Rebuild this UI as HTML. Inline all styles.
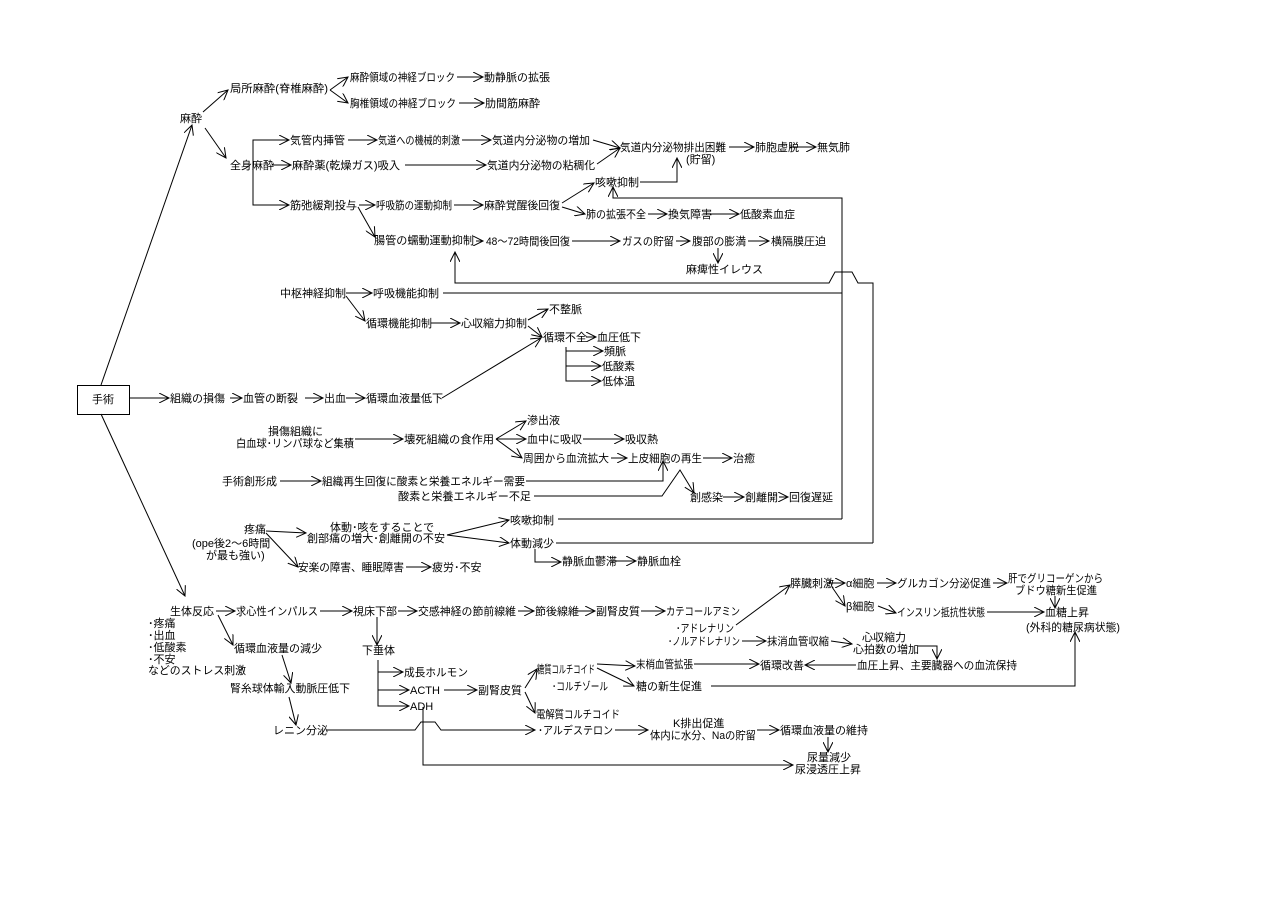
<!DOCTYPE html>
<html><head><meta charset="utf-8"><style>
html,body{margin:0;padding:0;background:#fff;}
svg{display:block}
text{font-family:"Liberation Sans","Noto Sans CJK JP",sans-serif;font-size:11px;fill:#000;}
line,polyline,path{stroke:#000;stroke-width:1;fill:none}
</style></head><body>
<svg width="1280" height="905" viewBox="0 0 1280 905" xmlns="http://www.w3.org/2000/svg">
<defs><marker id="a" markerWidth="12" markerHeight="10" refX="10" refY="5" orient="auto" markerUnits="userSpaceOnUse"><path d="M0,0 L10,5 L0,10" fill="none" stroke="#000"/></marker></defs>
<g marker-end="url(#a)">
<line x1="101" y1="385" x2="192" y2="125"/>
<line x1="101" y1="414" x2="185" y2="596"/>
<line x1="203" y1="112" x2="228" y2="90"/>
<line x1="205" y1="128" x2="226" y2="158"/>
<line x1="330" y1="90" x2="348" y2="77"/>
<line x1="330" y1="90" x2="348" y2="103"/>
<line x1="457" y1="77" x2="483" y2="77"/>
<line x1="459" y1="103" x2="484" y2="103"/>
<polyline points="253,165 253,140 289,140"/>
<polyline points="253,165 253,205 289,205"/>
<line x1="348" y1="140" x2="377" y2="140"/>
<line x1="462" y1="140" x2="491" y2="140"/>
<line x1="272" y1="165" x2="291" y2="165"/>
<line x1="405" y1="165" x2="486" y2="165"/>
<line x1="593" y1="140" x2="620" y2="148"/>
<line x1="597" y1="164" x2="620" y2="148"/>
<line x1="729" y1="147" x2="754" y2="147"/>
<line x1="790" y1="147" x2="816" y2="147"/>
<polyline points="640,182 677,182 677,158"/>
<polyline points="842,519 842,198 613,198 613,187"/>
<line x1="359" y1="205" x2="375" y2="205"/>
<line x1="454" y1="205" x2="483" y2="205"/>
<line x1="562" y1="203" x2="594" y2="183"/>
<line x1="562" y1="207" x2="585" y2="214"/>
<line x1="648" y1="214" x2="667" y2="214"/>
<line x1="710" y1="214" x2="739" y2="214"/>
<line x1="358" y1="207" x2="375" y2="237"/>
<line x1="476" y1="241" x2="483" y2="241"/>
<line x1="572" y1="241" x2="620" y2="241"/>
<line x1="676" y1="241" x2="690" y2="241"/>
<line x1="748" y1="241" x2="769" y2="241"/>
<line x1="718" y1="248" x2="718" y2="263"/>
<polyline points="873,543 873,283 858,283 852,272 835,272 829,283 455,283 455,252"/>
<line x1="346" y1="293" x2="372" y2="293"/>
<line x1="346" y1="296" x2="365" y2="321"/>
<line x1="431" y1="323" x2="460" y2="323"/>
<line x1="528" y1="320" x2="548" y2="309"/>
<line x1="528" y1="326" x2="542" y2="337"/>
<line x1="586" y1="337" x2="596" y2="337"/>
<polyline points="566,347 566,351 603,351"/>
<line x1="566" y1="366" x2="601" y2="366"/>
<polyline points="566,351 566,381 601,381"/>
<line x1="129" y1="398" x2="169" y2="398"/>
<line x1="230" y1="398" x2="242" y2="398"/>
<line x1="305" y1="398" x2="323" y2="398"/>
<line x1="346" y1="398" x2="365" y2="398"/>
<line x1="442" y1="398" x2="541" y2="338"/>
<line x1="355" y1="439" x2="403" y2="439"/>
<line x1="496" y1="439" x2="526" y2="421"/>
<line x1="496" y1="439" x2="526" y2="439"/>
<line x1="496" y1="439" x2="522" y2="458"/>
<line x1="583" y1="439" x2="624" y2="439"/>
<line x1="611" y1="458" x2="627" y2="458"/>
<line x1="703" y1="458" x2="732" y2="458"/>
<line x1="280" y1="481" x2="321" y2="481"/>
<polyline points="526,481 663,481 663,461"/>
<polyline points="534,496 662,496 680,470 694,493"/>
<line x1="723" y1="497" x2="744" y2="497"/>
<line x1="779" y1="497" x2="788" y2="497"/>
<line x1="266" y1="531" x2="306" y2="533"/>
<line x1="266" y1="533" x2="298" y2="567"/>
<line x1="447" y1="535" x2="509" y2="520"/>
<line x1="447" y1="535" x2="509" y2="543"/>
<polyline points="535,549 535,562 561,562"/>
<line x1="610" y1="561" x2="636" y2="561"/>
<line x1="406" y1="567" x2="431" y2="567"/>
<line x1="216" y1="611" x2="235" y2="611"/>
<line x1="320" y1="611" x2="352" y2="611"/>
<line x1="398" y1="611" x2="417" y2="611"/>
<line x1="518" y1="611" x2="534" y2="611"/>
<line x1="577" y1="611" x2="595" y2="611"/>
<line x1="641" y1="611" x2="665" y2="611"/>
<line x1="736" y1="625" x2="790" y2="585"/>
<line x1="829" y1="583" x2="845" y2="583"/>
<line x1="832" y1="587" x2="845" y2="606"/>
<line x1="877" y1="583" x2="896" y2="583"/>
<line x1="993" y1="583" x2="1007" y2="583"/>
<line x1="1055" y1="596" x2="1055" y2="608"/>
<line x1="878" y1="606" x2="896" y2="613"/>
<line x1="987" y1="612" x2="1044" y2="612"/>
<line x1="742" y1="641" x2="766" y2="641"/>
<line x1="831" y1="641" x2="852" y2="644"/>
<polyline points="918,646 937,646 937,659"/>
<line x1="856" y1="665" x2="805" y2="665"/>
<line x1="597" y1="664" x2="635" y2="666"/>
<line x1="597" y1="668" x2="634" y2="686"/>
<line x1="694" y1="664" x2="759" y2="664"/>
<polyline points="711,686 1075,686 1075,632"/>
<line x1="218" y1="615" x2="233" y2="645"/>
<line x1="282" y1="655" x2="291" y2="683"/>
<line x1="289" y1="697" x2="296" y2="725"/>
<line x1="377" y1="617" x2="377" y2="645"/>
<polyline points="378,660 378,672 403,672"/>
<line x1="378" y1="690" x2="409" y2="690"/>
<polyline points="378,672 378,706 409,706"/>
<line x1="444" y1="690" x2="477" y2="690"/>
<line x1="525" y1="688" x2="537" y2="669"/>
<line x1="525" y1="692" x2="535" y2="713"/>
<polyline points="327,730 415,730 421,722 435,722 441,730 535,730"/>
<line x1="615" y1="730" x2="648" y2="730"/>
<line x1="757" y1="730" x2="779" y2="730"/>
<line x1="828" y1="737" x2="828" y2="752"/>
<polyline points="423,707 423,765 793,765"/>
</g>
<line x1="558" y1="519" x2="842" y2="519"/>
<line x1="556" y1="543" x2="873" y2="543"/>
<line x1="443" y1="293" x2="842" y2="293"/>
<rect x="77.5" y="385.5" width="52" height="29" fill="none" stroke="#000"/>
<text x="92" y="403">手術</text>
<text x="180" y="122">麻酔</text>
<text x="230" y="92" textLength="98" lengthAdjust="spacingAndGlyphs">局所麻酔(脊椎麻酔)</text>
<text x="350" y="81" textLength="105" lengthAdjust="spacingAndGlyphs">麻酔領域の神経ブロック</text>
<text x="484" y="81">動静脈の拡張</text>
<text x="350" y="107" textLength="106" lengthAdjust="spacingAndGlyphs">胸椎領域の神経ブロック</text>
<text x="485" y="107">肋間筋麻酔</text>
<text x="230" y="169">全身麻酔</text>
<text x="290" y="144">気管内挿管</text>
<text x="378" y="144" textLength="82" lengthAdjust="spacingAndGlyphs">気道への機械的刺激</text>
<text x="492" y="144" textLength="98" lengthAdjust="spacingAndGlyphs">気道内分泌物の増加</text>
<text x="292" y="169" textLength="108" lengthAdjust="spacingAndGlyphs">麻酔薬(乾燥ガス)吸入</text>
<text x="487" y="169" textLength="108" lengthAdjust="spacingAndGlyphs">気道内分泌物の粘稠化</text>
<text x="620" y="151" textLength="106" lengthAdjust="spacingAndGlyphs">気道内分泌物排出困難</text>
<text x="686" y="163">(貯留)</text>
<text x="755" y="151">肺胞虚脱</text>
<text x="817" y="151">無気肺</text>
<text x="595" y="186">咳嗽抑制</text>
<text x="290" y="209" textLength="67" lengthAdjust="spacingAndGlyphs">筋弛緩剤投与</text>
<text x="376" y="209" textLength="76" lengthAdjust="spacingAndGlyphs">呼吸筋の運動抑制</text>
<text x="484" y="209" textLength="76" lengthAdjust="spacingAndGlyphs">麻酔覚醒後回復</text>
<text x="586" y="218" textLength="60" lengthAdjust="spacingAndGlyphs">肺の拡張不全</text>
<text x="668" y="218">換気障害</text>
<text x="740" y="218">低酸素血症</text>
<text x="374" y="244" textLength="100" lengthAdjust="spacingAndGlyphs">腸管の蠕動運動抑制</text>
<text x="486" y="245" textLength="84" lengthAdjust="spacingAndGlyphs">48～72時間後回復</text>
<text x="622" y="245" textLength="52" lengthAdjust="spacingAndGlyphs">ガスの貯留</text>
<text x="692" y="245" textLength="54" lengthAdjust="spacingAndGlyphs">腹部の膨満</text>
<text x="771" y="245">横隔膜圧迫</text>
<text x="686" y="273">麻痺性イレウス</text>
<text x="280" y="297">中枢神経抑制</text>
<text x="373" y="297">呼吸機能抑制</text>
<text x="366" y="327">循環機能抑制</text>
<text x="461" y="327">心収縮力抑制</text>
<text x="549" y="313">不整脈</text>
<text x="543" y="341">循環不全</text>
<text x="597" y="341">血圧低下</text>
<text x="604" y="355">頻脈</text>
<text x="602" y="370">低酸素</text>
<text x="602" y="385">低体温</text>
<text x="170" y="402">組織の損傷</text>
<text x="243" y="402">血管の断裂</text>
<text x="324" y="402">出血</text>
<text x="366" y="402">循環血液量低下</text>
<text x="268" y="435">損傷組織に</text>
<text x="236" y="447" textLength="118" lengthAdjust="spacingAndGlyphs">白血球･リンパ球など集積</text>
<text x="404" y="443" textLength="90" lengthAdjust="spacingAndGlyphs">壊死組織の食作用</text>
<text x="527" y="424">滲出液</text>
<text x="527" y="443">血中に吸収</text>
<text x="625" y="443">吸収熱</text>
<text x="523" y="462" textLength="86" lengthAdjust="spacingAndGlyphs">周囲から血流拡大</text>
<text x="628" y="462" textLength="74" lengthAdjust="spacingAndGlyphs">上皮細胞の再生</text>
<text x="733" y="462">治癒</text>
<text x="222" y="485">手術創形成</text>
<text x="322" y="485" textLength="203" lengthAdjust="spacingAndGlyphs">組織再生回復に酸素と栄養エネルギー需要</text>
<text x="398" y="500" textLength="133" lengthAdjust="spacingAndGlyphs">酸素と栄養エネルギー不足</text>
<text x="690" y="501">創感染</text>
<text x="745" y="501">創離開</text>
<text x="789" y="501">回復遅延</text>
<text x="244" y="533">疼痛</text>
<text x="192" y="547">(ope後2～6時間</text>
<text x="206" y="559">が最も強い)</text>
<text x="330" y="531">体動･咳をすることで</text>
<text x="307" y="542" textLength="138" lengthAdjust="spacingAndGlyphs">創部痛の増大･創離開の不安</text>
<text x="510" y="524">咳嗽抑制</text>
<text x="510" y="547">体動減少</text>
<text x="562" y="565">静脈血鬱滞</text>
<text x="637" y="565">静脈血栓</text>
<text x="298" y="571" textLength="106" lengthAdjust="spacingAndGlyphs">安楽の障害、睡眠障害</text>
<text x="432" y="571">疲労･不安</text>
<text x="170" y="615">生体反応</text>
<text x="148" y="627">･疼痛</text>
<text x="148" y="639">･出血</text>
<text x="148" y="651">･低酸素</text>
<text x="148" y="663">･不安</text>
<text x="148" y="674" textLength="98" lengthAdjust="spacingAndGlyphs">などのストレス刺激</text>
<text x="236" y="615" textLength="82" lengthAdjust="spacingAndGlyphs">求心性インパルス</text>
<text x="353" y="615">視床下部</text>
<text x="418" y="615" textLength="98" lengthAdjust="spacingAndGlyphs">交感神経の節前線維</text>
<text x="535" y="615">節後線維</text>
<text x="596" y="615">副腎皮質</text>
<text x="666" y="615" textLength="74" lengthAdjust="spacingAndGlyphs">カテコールアミン</text>
<text x="676" y="632" textLength="58" lengthAdjust="spacingAndGlyphs">･アドレナリン</text>
<text x="668" y="645" textLength="72" lengthAdjust="spacingAndGlyphs">･ノルアドレナリン</text>
<text x="790" y="587">膵臓刺激</text>
<text x="846" y="587">α細胞</text>
<text x="897" y="587" textLength="94" lengthAdjust="spacingAndGlyphs">グルカゴン分泌促進</text>
<text x="1008" y="582" textLength="95" lengthAdjust="spacingAndGlyphs">肝でグリコーゲンから</text>
<text x="1015" y="594" textLength="82" lengthAdjust="spacingAndGlyphs">ブドウ糖新生促進</text>
<text x="846" y="610">β細胞</text>
<text x="897" y="616" textLength="88" lengthAdjust="spacingAndGlyphs">インスリン抵抗性状態</text>
<text x="1045" y="616">血糖上昇</text>
<text x="1026" y="631" textLength="94" lengthAdjust="spacingAndGlyphs">(外科的糖尿病状態)</text>
<text x="767" y="645" textLength="62" lengthAdjust="spacingAndGlyphs">抹消血管収縮</text>
<text x="862" y="641">心収縮力</text>
<text x="853" y="653">心拍数の増加</text>
<text x="857" y="669" textLength="160" lengthAdjust="spacingAndGlyphs">血圧上昇、主要臓器への血流保持</text>
<text x="760" y="669">循環改善</text>
<text x="537" y="673" textLength="58" lengthAdjust="spacingAndGlyphs">糖質コルチコイド</text>
<text x="552" y="690" textLength="56" lengthAdjust="spacingAndGlyphs">･コルチゾール</text>
<text x="636" y="668" textLength="57" lengthAdjust="spacingAndGlyphs">末梢血管拡張</text>
<text x="636" y="690" textLength="66" lengthAdjust="spacingAndGlyphs">糖の新生促進</text>
<text x="234" y="652">循環血液量の減少</text>
<text x="230" y="692" textLength="120" lengthAdjust="spacingAndGlyphs">腎糸球体輸入動脈圧低下</text>
<text x="273" y="734">レニン分泌</text>
<text x="362" y="654">下垂体</text>
<text x="404" y="676" textLength="64" lengthAdjust="spacingAndGlyphs">成長ホルモン</text>
<text x="410" y="694">ACTH</text>
<text x="410" y="710">ADH</text>
<text x="478" y="694">副腎皮質</text>
<text x="536" y="718" textLength="84" lengthAdjust="spacingAndGlyphs">電解質コルチコイド</text>
<text x="538" y="734" textLength="75" lengthAdjust="spacingAndGlyphs">･アルデステロン</text>
<text x="673" y="727">K排出促進</text>
<text x="650" y="739" textLength="106" lengthAdjust="spacingAndGlyphs">体内に水分、Naの貯留</text>
<text x="780" y="734" textLength="88" lengthAdjust="spacingAndGlyphs">循環血液量の維持</text>
<text x="807" y="761">尿量減少</text>
<text x="795" y="773">尿浸透圧上昇</text>
</svg>
</body></html>
